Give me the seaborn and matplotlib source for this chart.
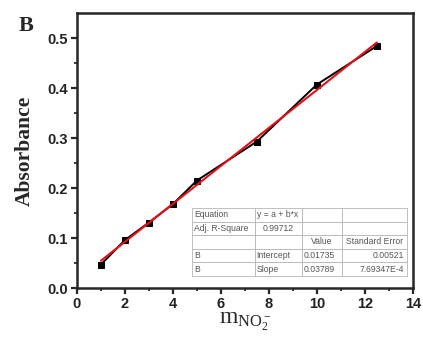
import matplotlib
matplotlib.use("Agg")
import matplotlib.pyplot as plt
import numpy as np
import pandas as pd
import seaborn as sns

conc = [1, 2, 3, 4, 5, 7.5, 10, 12.5]
absorbance = [0.047, 0.096, 0.131, 0.168, 0.215, 0.293, 0.407, 0.484]

# fit summary table as printed in the figure
fit_rows = [
    ["Equation", "y = a + b*x", "", ""],
    ["Adj. R-Square", "0.99712", "", ""],
    ["", "", "Value", "Standard Error"],
    ["B", "Intercept", "0.01735", "0.00521"],
    ["B", "Slope", "0.03789", "7.69347E-4"],
]

x_ticks = [0, 2, 4, 6, 8, 10, 12, 14]
y_ticks = [0.0, 0.1, 0.2, 0.3, 0.4, 0.5]

sns.set_style("ticks")
plt.rcParams["font.family"] = ["Liberation Sans", "DejaVu Sans"]
plt.rcParams["mathtext.fontset"] = "stix"

df = pd.DataFrame({"conc": conc, "abs": absorbance})

fig = plt.figure(figsize=(4.23, 3.47), dpi=100)
ax = fig.add_axes([0.182, 0.170, 0.794, 0.7925])

sns.lineplot(data=df, x="conc", y="abs", ax=ax, color="black", lw=1.4,
             marker="s", markersize=5, markeredgecolor="black")
sns.regplot(data=df, x="conc", y="abs", ax=ax, scatter=False, ci=None,
            color="#e3101a", line_kws={"lw": 1.5})

ax.set_xlim(0, 14)
ax.set_ylim(0, 0.55)
ax.set_xticks(x_ticks)
ax.set_yticks(y_ticks)
ax.set_xticklabels([str(t) for t in x_ticks], fontweight="bold", fontsize=10.5,
                   color="#222222")
ax.set_yticklabels([f"{t:.1f}" for t in y_ticks], fontweight="bold", fontsize=10.5,
                   color="#222222")
ax.set_xticks(np.arange(1, 14, 2), minor=True)
ax.set_yticks(np.arange(0.05, 0.55, 0.1), minor=True)
ax.tick_params(which="major", direction="out", length=4.5, width=1.6, pad=2)
ax.tick_params(which="minor", direction="out", length=2.5, width=1.3)
for s in ax.spines.values():
    s.set_linewidth(1.8)
    s.set_visible(True)

ax.set_xlabel(r"$\mathregular{m_{NO_2^-}}$", fontsize=17, family="Liberation Serif",
              labelpad=0)
ax.set_ylabel("Absorbance", fontsize=15.5, fontweight="bold",
              family="Liberation Serif", labelpad=9)
fig.text(0.045, 0.912, "B", fontsize=16, fontweight="bold", family="Liberation Serif")

tbl = ax.table(cellText=fit_rows, colWidths=[63, 47, 40, 65],
               bbox=[0.342, 0.044, 0.640, 0.247], cellLoc="left")
tbl.auto_set_font_size(False)
tbl.set_fontsize(6.2)
for (r, c), cell in tbl.get_celld().items():
    cell.set_edgecolor("#b5b5b5")
    cell.set_linewidth(0.6)
    cell.get_text().set_color("#555555")
    cell.PAD = 0.04
    if c == 3 and r >= 3:
        cell.get_text().set_ha("right")
    if (r, c) in [(1, 1), (2, 2), (2, 3)]:
        cell.get_text().set_ha("center")

fig.savefig("out.png", dpi=100)
